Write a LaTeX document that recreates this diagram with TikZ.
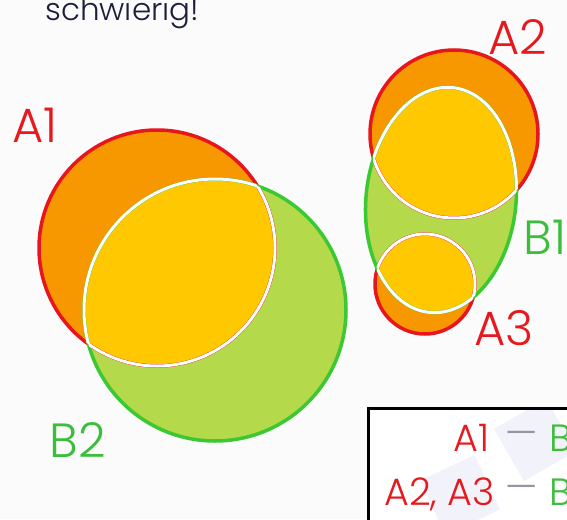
\documentclass[tikz,border=0pt]{standalone}
\usepackage{fontspec}
\setmainfont{Poppins}[UprightFont={* Light}]
\usetikzlibrary{positioning}
\definecolor{redline}{RGB}{232,20,30}
\definecolor{greenline}{RGB}{60,200,50}
\definecolor{orangefill}{RGB}{248,152,0}
\definecolor{yellowfill}{RGB}{255,200,0}
\definecolor{greenfill}{RGB}{180,217,74}
\definecolor{inktext}{RGB}{30,30,60}
\definecolor{labelred}{RGB}{230,25,30}
\definecolor{labelgreen}{RGB}{60,190,60}
\definecolor{dashgray}{RGB}{150,150,160}
\definecolor{watermark}{RGB}{241,242,250}
\definecolor{paper}{RGB}{250,251,250}
\tikzset{rim/.style = {line width = 3.5pt}}
\tikzset{seam/.style = {draw = white, line width = 3pt}}
\tikzset{setlabel/.style = {font = \fontsize{48}{48}\selectfont, inner sep = 0pt}}
\tikzset{keytext/.style = {font = \fontsize{38}{38}\selectfont, inner sep = 0pt}}
\newcommand{\setAone}{(157,248) circle (118pt)}
\newcommand{\setBtwo}{(215,310) circle (131pt)}
\newcommand{\setAtwo}{(454,134) circle (84pt)}
\newcommand{\setBone}{(441,200) circle [x radius = 75pt, y radius = 113pt, rotate = -6]}
\newcommand{\setAthree}{(425,284) circle (50pt)}
\begin{document}
\begin{tikzpicture}[x = 1pt, y = -1pt]
				\useasboundingbox (0,0) rectangle (567,519);
				\clip (0,0) rectangle (567,519);
				\fill[paper] (0,0) rectangle (567,519);

				\node[anchor = base west, inner sep = 0pt, text = inktext, font = \fontsize{31}{31}\selectfont] (title) at (45,21) {schwierig!};

				% A1 and B2
				\fill[orangefill] \setAone;
				\fill[greenfill] \setBtwo;
				\begin{scope}
					\clip \setAone;
					\fill[yellowfill] \setBtwo;
				\end{scope}
				\draw[rim, redline] \setAone;
				\draw[rim, greenline] \setBtwo;
				\begin{scope}
					\clip \setBtwo;
					\draw[seam] \setAone;
				\end{scope}
				\begin{scope}
					\clip \setAone;
					\draw[seam] \setBtwo;
				\end{scope}

				% A2, A3 and B1
				\fill[orangefill] \setAtwo;
				\fill[orangefill] \setAthree;
				\fill[greenfill] \setBone;
				\begin{scope}
					\clip \setBone;
					\fill[yellowfill] \setAtwo;
					\fill[yellowfill] \setAthree;
				\end{scope}
				\draw[rim, redline] \setAtwo;
				\draw[rim, redline] \setAthree;
				\draw[rim, greenline] \setBone;
				\begin{scope}
					\clip \setBone;
					\draw[seam] \setAtwo;
					\draw[seam] \setAthree;
				\end{scope}
				\begin{scope}
					\clip \setAtwo;
					\draw[seam] \setBone;
				\end{scope}
				\begin{scope}
					\clip \setAthree;
					\draw[seam] \setBone;
				\end{scope}

				\node[setlabel, text = labelred] (nameAone) at (35,125) {A1};
				\node[setlabel, text = labelgreen] (nameBtwo) at (78,440) {B2};
				\node[setlabel, text = labelred] (nameAtwo) at (518,37) {A2};
				\node[setlabel, text = labelgreen] (nameBone) at (545,237) {B1};
				\node[setlabel, text = labelred] (nameAthree) at (504,328) {A3};

				% legend
				\fill[white] (368,408) rectangle (620,560);
				\begin{scope}
					\clip (368,408) rectangle (620,560);
					\fill[watermark, rotate around = {30:(535,440)}] (505,410) rectangle (565,470);
					\fill[watermark, rotate around = {25:(460,495)}] (430,465) rectangle (490,525);
				\end{scope}
				\draw[line width = 3pt] (368,408) rectangle (620,560);
				\node[keytext, anchor = base east, text = labelred] (keyAone) at (490,451) {A1};
				\node[keytext, anchor = base east, text = labelred] (keyAtwo) at (495,505) {A2, A3};
				\node[keytext, text = dashgray] (dashone) at (522,439) {—};
				\node[keytext, text = dashgray] (dashtwo) at (522,493) {—};
				\node[keytext, anchor = base west, text = labelgreen] (keyBtwo) at (549,451) {B};
				\node[keytext, anchor = base west, text = labelgreen] (keyBone) at (549,505) {B};
\end{tikzpicture}
\end{document}
